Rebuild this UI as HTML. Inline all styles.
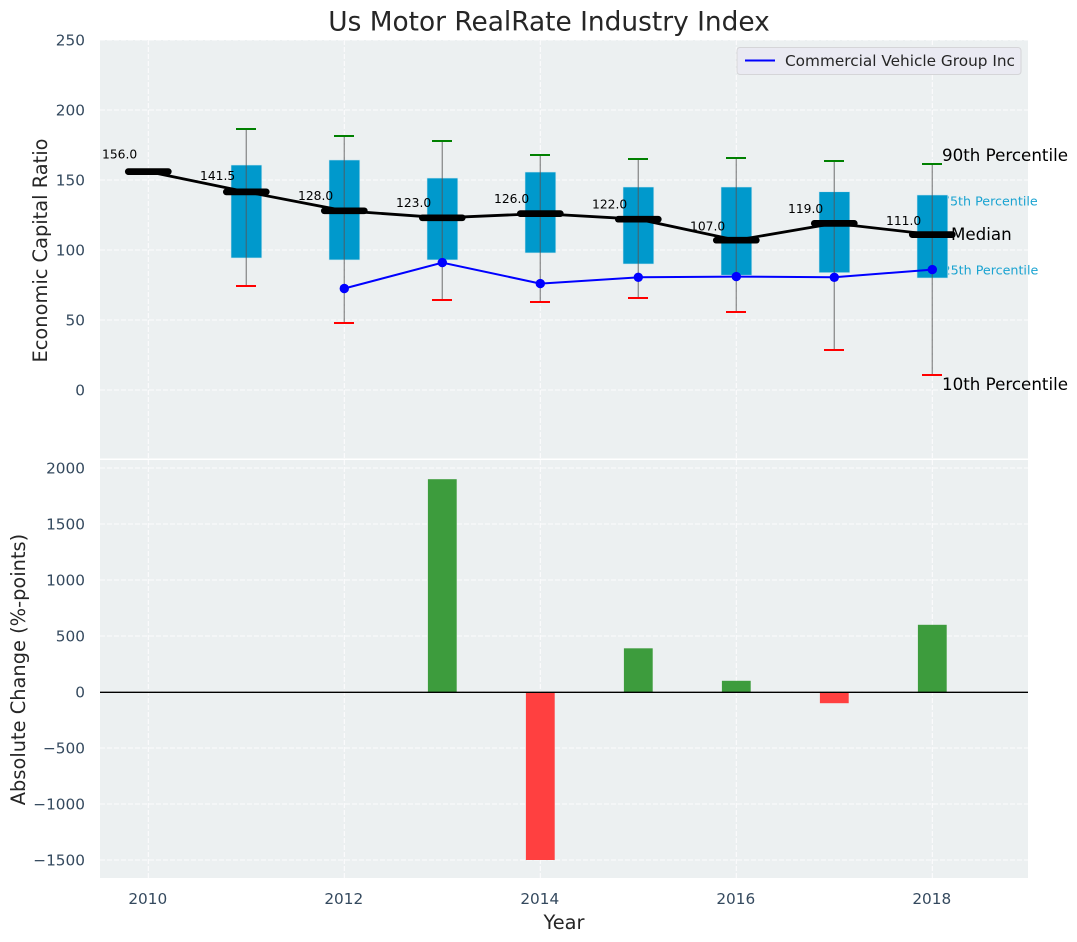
<!DOCTYPE html>
<html>
<head>
<meta charset="utf-8">
<style>
html,body{margin:0;padding:0;background:#fff;}
svg{display:block;font-family:"DejaVu Sans","Liberation Sans",sans-serif;}
</style>
</head>
<body>
<svg id="chart" xmlns="http://www.w3.org/2000/svg" width="1077" height="942" viewBox="0 0 1077 942">
  <rect x="100" y="40" width="928" height="418.5" fill="#ecf0f1"/>
  <rect x="100" y="460" width="928" height="418" fill="#ecf0f1"/>
  <g id="grid"></g>
  <g id="under">
    <text x="1037.7" y="205.5" text-anchor="end" font-size="12.7" fill="#1aa3d1">75th Percentile</text>
    <text x="1038.3" y="274.5" text-anchor="end" font-size="12.7" fill="#1aa3d1">25th Percentile</text>
  </g>
  <g id="marks"></g>
  <g id="bars"></g>
  <line x1="100" x2="1028" y1="692.3" y2="692.3" stroke="#000" stroke-width="1.4"/>
  <g id="ticks"></g>
  <text x="549" y="30.5" text-anchor="middle" font-size="26.4" fill="#262626">Us Motor RealRate Industry Index</text>
  <text transform="translate(47,250.5) rotate(-90)" text-anchor="middle" font-size="19.4" fill="#262626">Economic Capital Ratio</text>
  <text transform="translate(25,669.5) rotate(-90)" text-anchor="middle" font-size="19.4" fill="#262626">Absolute Change (%-points)</text>
  <text x="564" y="929" text-anchor="middle" font-size="19.4" fill="#262626">Year</text>
  <text x="942" y="161" font-size="16.7" fill="#000">90th Percentile</text>
  <text x="951" y="240" font-size="16.7" fill="#000">Median</text>
  <text x="942" y="390" font-size="16.7" fill="#000">10th Percentile</text>
  <g>
    <rect x="737" y="47.5" width="284" height="27" rx="3" fill="#eaeaf2" stroke="#d5d5d8" stroke-width="1"/>
    <line x1="745" x2="775" y1="60.5" y2="60.5" stroke="#0000ff" stroke-width="2"/>
    <text x="785" y="66" font-size="15.3" fill="#262626">Commercial Vehicle Group Inc</text>
  </g>
</svg>
<script>
const boxYears = [2011, 2012, 2013, 2014, 2015, 2016, 2017, 2018];
const p90 = [186.4, 181.4, 177.9, 167.9, 165, 165.7, 163.6, 161.4];
const p75 = [160.7, 164.3, 151.4, 155.7, 145, 145, 141.6, 139.3];
const p25 = [94.3, 92.9, 92.9, 97.9, 90, 82, 83.8, 80];
const p10 = [74.3, 47.9, 64.3, 62.9, 65.7, 55.7, 28.6, 10.7];
const medianYears = [2010, 2011, 2012, 2013, 2014, 2015, 2016, 2017, 2018];
const medians = [156, 141.5, 128, 123, 126, 122, 107, 119, 111];
const companyYears = [2012, 2013, 2014, 2015, 2016, 2017, 2018];
const companyValues = [72.5, 91, 76, 80.5, 81, 80.5, 86];
const changeYears = [2013, 2014, 2015, 2016, 2017, 2018];
const changeValues = [1900, -1500, 390, 100, -100, 600];
const xTicks = [2010, 2012, 2014, 2016, 2018];
const topTicks = [0, 50, 100, 150, 200, 250];
const bottomTicks = [-1500, -1000, -500, 0, 500, 1000, 1500, 2000];

const NS = 'http://www.w3.org/2000/svg';
function xScale(year) { return 148.3 + 98 * (year - 2010); }
function yTop(v) { return 390 - 1.4 * v; }
function yBottom(v) { return 692 - 0.112 * v; }
function make(parentId, tag, attrs) {
  const el = document.createElementNS(NS, tag);
  for (const k in attrs) el.setAttribute(k, attrs[k]);
  document.getElementById(parentId).appendChild(el);
  return el;
}
const gridAttrs = { stroke: '#ffffff', 'stroke-width': 1, 'stroke-dasharray': '5 2', opacity: 0.9 };

xTicks.forEach(function (t) {
  const a = make('grid', 'line', Object.assign({ x1: xScale(t), x2: xScale(t), y1: 40, y2: 458 }, gridAttrs));
  
  
  const b = make('grid', 'line', Object.assign({ x1: xScale(t), x2: xScale(t), y1: 460, y2: 878 }, gridAttrs));
  
  
  const label = make('ticks', 'text', { x: xScale(t) - 0.5, y: 904, 'text-anchor': 'middle', 'font-size': 15.3, fill: '#34495e' });
  
  
  label.textContent = t;
});
topTicks.forEach(function (t) {
  const a = make('grid', 'line', Object.assign({ x1: 100, x2: 1028, y1: yTop(t), y2: yTop(t) }, gridAttrs));
  
  
  const label = make('ticks', 'text', { x: 85, y: yTop(t) + 5.5, 'text-anchor': 'end', 'font-size': 15.3, fill: '#34495e' });
  
  
  label.textContent = t;
});
bottomTicks.forEach(function (t) {
  const a = make('grid', 'line', Object.assign({ x1: 100, x2: 1028, y1: yBottom(t), y2: yBottom(t) }, gridAttrs));
  
  
  const label = make('ticks', 'text', { x: 85, y: yBottom(t) + 5.5, 'text-anchor': 'end', 'font-size': 15.3, fill: '#34495e' });
  
  
  label.textContent = String(t).replace('-', '\u2212');
});

boxYears.forEach(function (year, i) {
  const cx = xScale(year);
  const box = make('marks', 'rect', { x: cx - 15.3, y: yTop(p75[i]), width: 30.8, height: yTop(p25[i]) - yTop(p75[i]), fill: '#0099cc', stroke: '#cfe6ee', 'stroke-width': 0.6 });
  
  
  const whisker = make('marks', 'line', { x1: cx, x2: cx, y1: yTop(p90[i]), y2: yTop(p10[i]), stroke: '#555555', 'stroke-opacity': 0.6, 'stroke-width': 1.4 });
  
  
  const capHigh = make('marks', 'line', { x1: cx - 10.3, x2: cx + 9.7, y1: Math.round(yTop(p90[i])), y2: Math.round(yTop(p90[i])), stroke: '#008000', 'stroke-width': 2, 'shape-rendering': 'crispEdges' });
  
  
  const capLow = make('marks', 'line', { x1: cx - 10.3, x2: cx + 9.7, y1: Math.round(yTop(p10[i])), y2: Math.round(yTop(p10[i])), stroke: '#ff0000', 'stroke-width': 2, 'shape-rendering': 'crispEdges' });
  
  
});

const medianLine = make('marks', 'polyline', { points: medianYears.map(function (y, i) { return xScale(y) + ',' + yTop(medians[i]); }).join(' '), fill: 'none', stroke: '#000', 'stroke-width': 2.8 });


medianYears.forEach(function (year, i) {
  const cx = xScale(year), cy = yTop(medians[i]);
  const bar = make('marks', 'line', { x1: cx - 20, x2: cx + 20, y1: cy, y2: cy, stroke: '#000', 'stroke-width': 6.7, 'stroke-linecap': 'round' });
  
  
  const label = make('marks', 'text', { x: cx - 46.3, y: yTop(medians[i] * 1.05) - 2, 'font-size': 12.3, fill: '#000' });
  
  
  label.textContent = medians[i].toFixed(1);
});

const companyLine = make('marks', 'polyline', { points: companyYears.map(function (y, i) { return xScale(y) + ',' + yTop(companyValues[i]); }).join(' '), fill: 'none', stroke: '#0000ff', 'stroke-width': 2 });


companyYears.forEach(function (year, i) {
  const dot = make('marks', 'circle', { cx: xScale(year), cy: yTop(companyValues[i]), r: 4.7, fill: '#0000ff' });
  
  
});

changeYears.forEach(function (year, i) {
  const v = changeValues[i];
  const top = Math.min(yBottom(v), yBottom(0));
  const h = Math.abs(yBottom(v) - yBottom(0));
  const bar = make('bars', 'rect', { x: xScale(year) - 14.4, y: top, width: 28.8, height: h, fill: v >= 0 ? '#3d9c3d' : '#ff4040' });
  
  
});
</script>
</body>
</html>
